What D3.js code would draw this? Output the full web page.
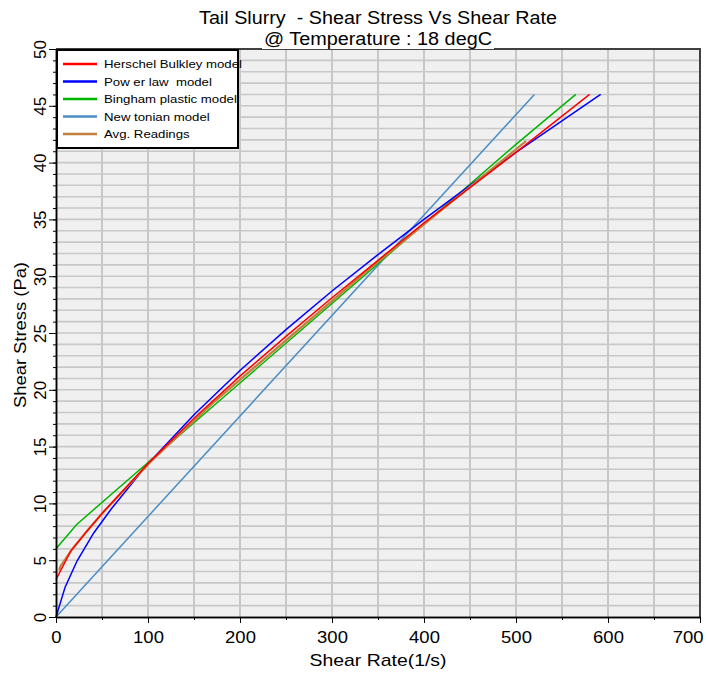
<!DOCTYPE html>
<html>
<head>
<meta charset="utf-8">
<script src="https://cdn.jsdelivr.net/npm/d3@7"></script>
<style>
  body { margin: 0; background: #fff; }
  svg { font-family: "Liberation Sans", Arial, sans-serif; }
</style>
</head>
<body>
<svg id="chart" width="708" height="673" viewBox="0 0 708 673"></svg>
<script>
// series
const hbRate = [0, 16, 34, 51, 100, 150, 200, 250, 300, 350, 400, 450, 500, 580];
const hbStress = [3.3, 5.8, 7.6, 9.2, 13.5, 17.5, 21.2, 24.7, 28.1, 31.4, 34.7, 37.8, 40.9, 46];

const powerRate = [0, 10, 23, 41, 60, 100, 150, 200, 250, 300, 350, 400, 450, 500, 592];
const powerStress = [0, 2.65, 4.95, 7.4, 9.5, 13.5, 17.8, 21.7, 25.3, 28.7, 31.9, 35.0, 38.0, 40.9, 46];

const binghamRate = [0, 22.5, 100, 200, 300, 400, 500, 565];
const binghamStress = [6.0, 8.15, 13.6, 20.6, 27.6, 34.6, 41.6, 46];

const newtonRate = [0, 520];
const newtonStress = [0, 46];

const avgRate = [3.4, 5.1, 10.2, 17, 34, 51, 102, 170, 340, 511];
const avgStress = [4.1, 4.5, 5.1, 5.9, 7.6, 9.2, 13.6, 18.8, 30.6, 41.9];

const seriesNames = ["Herschel Bulkley model", "Pow er law  model", "Bingham plastic model", "New tonian model", "Avg. Readings"];
const seriesColors = ["#ff0000", "#0000ff", "#00b400", "#4a8cc4", "#c0803c"];

const xTicks = [0, 100, 200, 300, 400, 500, 600, 700];
const yTicks = [0, 5, 10, 15, 20, 25, 30, 35, 40, 45, 50];

const svg = d3.select("#chart");
const plotLeft = 56, plotRight = 700, plotTop = 49, plotBottom = 617;

const x = d3.scaleLinear().domain([0, 700]).range([plotLeft, plotRight]);
const y = d3.scaleLinear().domain([0, 50]).range([plotBottom, plotTop]);

// plot background
svg.append("rect")
  .attr("x", plotLeft).attr("y", plotTop)
  .attr("width", plotRight - plotLeft).attr("height", plotBottom - plotTop)
  .attr("fill", "#f0f0f0");

// grid
const grid = svg.append("g").attr("stroke", "#c8c8c8");
grid.selectAll(".hgrid")
  .data(d3.range(1, 50))
  .enter().append("line")
  .attr("x1", plotLeft).attr("x2", plotRight)
  .attr("y1", d => y(d)).attr("y2", d => y(d))
  .attr("stroke-width", 1.6);
grid.selectAll(".vgrid")
  .data(d3.range(50, 700, 50))
  .enter().append("line")
  .attr("y1", plotTop).attr("y2", plotBottom)
  .attr("x1", d => x(d)).attr("x2", d => x(d))
  .attr("stroke-width", 2);

// top / right frame
svg.append("path")
  .attr("d", `M${plotLeft},${plotTop}H${plotRight}V${plotBottom}`)
  .attr("fill", "none")
  .attr("stroke", "#404040")
  .attr("stroke-width", 2);

// lines
const line = d3.line().x(d => x(d[0])).y(d => y(d[1]));
const series = [
  [hbRate, hbStress],
  [powerRate, powerStress],
  [binghamRate, binghamStress],
  [newtonRate, newtonStress],
  [avgRate, avgStress]
];
const drawOrder = [3, 2, 1, 4, 0]; // avg readings under the HB curve
drawOrder.forEach(i => {
  const pts = series[i][0].map((r, j) => [r, series[i][1][j]]);
  svg.append("path")
    .datum(pts)
    .attr("d", line)
    .attr("fill", "none")
    .attr("stroke", seriesColors[i])
    .attr("stroke-width", i == 4 ? 2.2 : 1.5);
});

// axes
const xAxis = svg.append("g")
  .attr("transform", `translate(0,${plotBottom})`)
  .call(d3.axisBottom(x).tickValues(xTicks).tickSize(6).tickSizeOuter(0));
svg.append("g")
  .attr("transform", `translate(0,${plotBottom})`)
  .call(d3.axisBottom(x).tickValues(d3.range(50, 700, 100)).tickSize(3).tickFormat("").tickSizeOuter(0));
xAxis.selectAll("text")
  .attr("font-size", 16.5)
  .attr("font-family", "Liberation Sans, Arial, sans-serif")
  .attr("fill", "#000")
  .attr("dy", null)
  .attr("y", null)
  .attr("text-anchor", (d, i) => i == xTicks.length - 1 ? "end" : "middle")
  .attr("transform", (d, i) => i == xTicks.length - 1 ? "translate(3,26) scale(1.12,1)" : "translate(0,26) scale(1.12,1)");

const yAxis = svg.append("g")
  .attr("transform", `translate(${plotLeft},0)`)
  .call(d3.axisLeft(y).tickValues(yTicks).tickSize(7).tickSizeOuter(0));
svg.append("g")
  .attr("transform", `translate(${plotLeft},0)`)
  .call(d3.axisLeft(y).tickValues(d3.range(1, 50)).tickSize(3).tickFormat("").tickSizeOuter(0));
yAxis.selectAll("text")
  .attr("font-size", 17)
  .attr("font-family", "Liberation Sans, Arial, sans-serif")
  .attr("fill", "#000")
  .attr("x", null).attr("dy", null)
  .attr("text-anchor", "middle")
  .attr("transform", "translate(-10,0) rotate(-90)");

svg.selectAll(".domain").attr("stroke", "#000").attr("stroke-width", 1.5);
svg.selectAll(".tick line").attr("stroke", "#000");

// titles
svg.append("rect")
  .attr("x", 262).attr("y", 28).attr("width", 232).attr("height", 21)
  .attr("fill", "#fff");
svg.append("text")
  .attr("x", 378).attr("y", 24)
  .attr("text-anchor", "middle")
  .attr("font-size", 17.5)
  .attr("textLength", 358)
  .attr("lengthAdjust", "spacingAndGlyphs")
  .style("white-space", "pre")
  .text("Tail Slurry  - Shear Stress Vs Shear Rate");
svg.append("text")
  .attr("x", 378).attr("y", 45)
  .attr("text-anchor", "middle")
  .attr("font-size", 17.5)
  .attr("textLength", 228)
  .attr("lengthAdjust", "spacingAndGlyphs")
  .text("@ Temperature : 18 degC");

svg.append("text")
  .attr("x", 378).attr("y", 666)
  .attr("text-anchor", "middle")
  .attr("font-size", 17)
  .attr("textLength", 137)
  .attr("lengthAdjust", "spacingAndGlyphs")
  .text("Shear Rate(1/s)");
svg.append("text")
  .attr("transform", "translate(26,335) rotate(-90)")
  .attr("text-anchor", "middle")
  .attr("font-size", 16.5)
  .attr("textLength", 146)
  .attr("lengthAdjust", "spacingAndGlyphs")
  .text("Shear Stress (Pa)");

// legend
const legend = svg.append("g");
legend.append("rect")
  .attr("x", 57).attr("y", 50).attr("width", 181).attr("height", 98)
  .attr("fill", "#fff").attr("stroke", "#000").attr("stroke-width", 2);
const rows = legend.selectAll(".row")
  .data(seriesNames)
  .enter().append("g")
  .attr("transform", (d, i) => `translate(0,${64 + i * 17.5})`);
rows.append("line")
  .attr("x1", 63).attr("x2", 97)
  .attr("stroke", (d, i) => seriesColors[i])
  .attr("stroke-width", 2.5);
rows.append("text")
  .attr("transform", "translate(104,0) scale(1.12,1)")
  .attr("dy", "0.36em")
  .attr("font-size", 11.8)
  .style("white-space", "pre")
  .text(d => d);
</script>
</body>
</html>
